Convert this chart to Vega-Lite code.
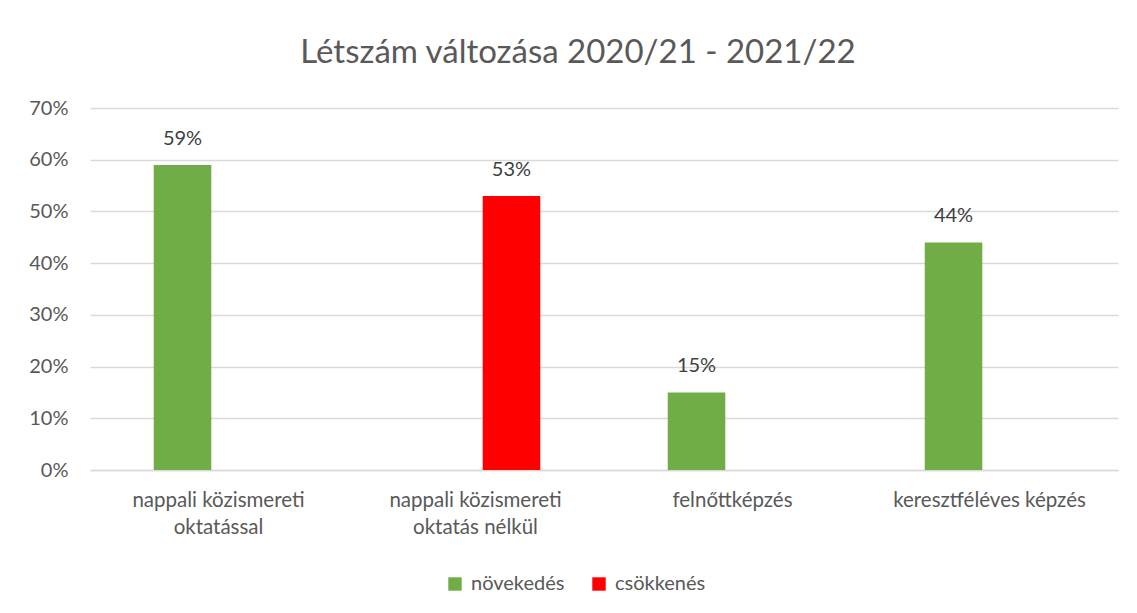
{
  "$schema": "https://vega.github.io/schema/vega-lite/v6.json",
  "width": 1028,
  "height": 362,
  "autosize": {"type": "none"},
  "padding": {"left": 90, "top": 108, "right": 19, "bottom": 143},
  "background": "white",
  "title": {
    "text": "Létszám változása 2020/21 - 2021/22",
    "font": "Lato",
    "fontSize": 33,
    "fontWeight": "normal",
    "color": "#595959",
    "anchor": "middle",
    "dx": -26,
    "offset": 28
  },
  "data": {
    "values": [
      {"kategoria": "nappali közismereti oktatással", "sorozat": "növekedés", "ertek": 0.59},
      {"kategoria": "nappali közismereti oktatás nélkül", "sorozat": "csökkenés", "ertek": 0.53},
      {"kategoria": "felnőttképzés", "sorozat": "növekedés", "ertek": 0.15},
      {"kategoria": "keresztféléves képzés", "sorozat": "növekedés", "ertek": 0.44}
    ]
  },
  "encoding": {
    "x": {
      "field": "kategoria",
      "type": "nominal",
      "sort": null,
      "scale": {"paddingInner": 0.44, "paddingOuter": 0.22},
      "axis": {
        "title": null,
        "labelAngle": 0,
        "labelFont": "Lato",
        "labelFontSize": 20.5,
        "labelColor": "#595959",
        "labelPadding": 20,
        "labelLineHeight": 27,
        "labelBaseline": "top",
        "labelLimit": 400,
        "ticks": false,
        "domainColor": "#d9d9d9",
        "domainWidth": 1.5,
        "labelExpr": "datum.value === 'nappali közismereti oktatással' ? ['nappali közismereti', 'oktatással'] : datum.value === 'nappali közismereti oktatás nélkül' ? ['nappali közismereti', 'oktatás nélkül'] : datum.value"
      }
    },
    "xOffset": {
      "field": "sorozat",
      "type": "nominal",
      "scale": {"domain": ["növekedés", "csökkenés"], "paddingInner": 0.2, "paddingOuter": 0.1}
    },
    "y": {
      "field": "ertek",
      "type": "quantitative",
      "scale": {"domain": [0, 0.7]},
      "axis": {
        "title": null,
        "format": ".0%",
        "values": [0, 0.1, 0.2, 0.3, 0.4, 0.5, 0.6, 0.7],
        "domain": false,
        "ticks": false,
        "labelFont": "Lato",
        "labelFontSize": 20,
        "labelColor": "#595959",
        "labelPadding": 22,
        "gridColor": "#d9d9d9",
        "gridWidth": 1.5
      }
    }
  },
  "layer": [
    {
      "mark": {"type": "bar"},
      "encoding": {
        "color": {
          "field": "sorozat",
          "type": "nominal",
          "scale": {"domain": ["növekedés", "csökkenés"], "range": ["#70ad47", "#ff0000"]},
          "legend": {
            "title": null,
            "orient": "none",
            "legendX": 355,
            "legendY": 466,
            "direction": "horizontal",
            "symbolType": "square",
            "symbolSize": 180,
            "symbolStrokeWidth": 0,
            "labelFont": "Lato",
            "labelFontSize": 20,
            "labelColor": "#595959",
            "labelOffset": 6,
            "columnPadding": 24
          }
        }
      }
    },
    {
      "mark": {"type": "text", "dy": -26, "font": "Lato", "fontSize": 20, "color": "#404040"},
      "encoding": {
        "text": {"field": "ertek", "type": "quantitative", "format": ".0%"}
      }
    }
  ],
  "config": {
    "view": {"stroke": null}
  }
}
